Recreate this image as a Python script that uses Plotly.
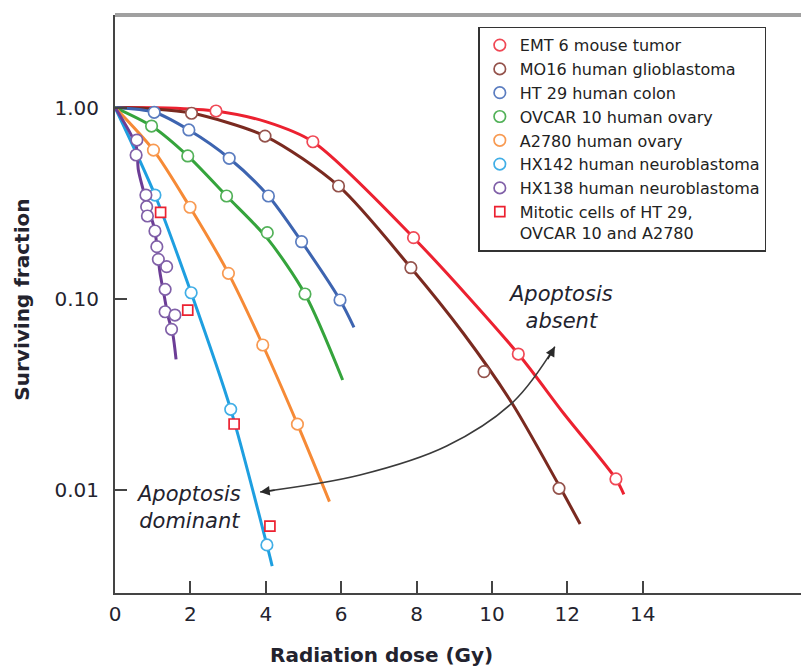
import numpy as np
import plotly.graph_objects as go

# ---------------- data ----------------
# EMT 6 mouse tumor
emt6_dose = [2.68, 5.25, 7.92, 10.70, 13.29]
emt6_sf = [0.959, 0.662, 0.2086, 0.0514, 0.01142]
emt6_curve_dose = [0, 1.4, 2.68, 4.0, 5.25, 7.92, 10.7, 11.9, 13.29, 13.5]
emt6_curve_sf = [1.0, 0.995, 0.959, 0.843, 0.662, 0.2086, 0.0514, 0.0252, 0.01142, 0.0095]

# MO16 human glioblastoma
mo16_dose = [2.03, 3.98, 5.93, 7.85, 9.79, 11.78]
mo16_sf = [0.933, 0.709, 0.3886, 0.1453, 0.04155, 0.0102]
mo16_curve_dose = [0, 1.0, 2.03, 3.98, 5.93, 7.85, 9.24, 10.53, 11.73, 12.34]
mo16_curve_sf = [1.0, 0.985, 0.935, 0.709, 0.389, 0.1453, 0.066, 0.0285, 0.0110, 0.00664]

# HT 29 human colon
ht29_dose = [1.04, 1.96, 3.03, 4.07, 4.95, 5.97]
ht29_sf = [0.944, 0.763, 0.5426, 0.3445, 0.1987, 0.0985]
ht29_curve_dose = [0, 1.04, 1.96, 3.03, 4.07, 4.95, 5.97, 6.34]
ht29_curve_sf = [1.0, 0.944, 0.763, 0.543, 0.3445, 0.1987, 0.0985, 0.0709]

# OVCAR 10 human ovary
ovcar_dose = [0.97, 1.93, 2.96, 4.04, 5.04]
ovcar_sf = [0.800, 0.558, 0.3445, 0.2215, 0.1059]
ovcar_curve_dose = [0, 0.97, 1.93, 2.96, 4.03, 5.04, 6.04]
ovcar_curve_sf = [1.0, 0.80, 0.558, 0.3445, 0.208, 0.1059, 0.0376]

# A2780 human ovary
a2780_dose = [1.02, 1.99, 3.01, 3.92, 4.84]
a2780_sf = [0.599, 0.301, 0.1358, 0.0573, 0.0221]
a2780_curve_dose = [0, 1.02, 1.99, 3.01, 3.92, 4.84, 5.69]
a2780_curve_sf = [1.0, 0.599, 0.301, 0.1358, 0.0573, 0.0221, 0.0087]

# HX142 human neuroblastoma
hx142_dose = [1.06, 2.02, 3.07, 4.03]
hx142_sf = [0.3486, 0.1075, 0.0264, 0.00516]
hx142_curve_dose = [0, 1.06, 2.02, 3.07, 4.03, 4.17]
hx142_curve_sf = [1.0, 0.3486, 0.1075, 0.0264, 0.00516, 0.0040]

# HX138 human neuroblastoma
hx138_dose = [0.58, 0.56, 0.82, 0.84, 0.86, 1.06, 1.11, 1.15, 1.37, 1.33, 1.33, 1.59, 1.50]
hx138_sf = [0.676, 0.5645, 0.3486, 0.3029, 0.2708, 0.2261, 0.1872, 0.1608, 0.1471,
            0.112, 0.0855, 0.0822, 0.0692]
hx138_curve_dose = [0, 0.56, 0.62, 0.82, 0.97, 1.06, 1.19, 1.31, 1.41, 1.53, 1.62]
hx138_curve_sf = [1.0, 0.63, 0.471, 0.33, 0.263, 0.226, 0.1385, 0.1025, 0.0805, 0.066, 0.0482]

# Mitotic cells of HT 29, OVCAR 10 and A2780
mitotic_dose = [1.21, 1.93, 3.16, 4.11]
mitotic_sf = [0.2831, 0.0873, 0.02214, 0.00648]

# curved double arrow between the two labels
arrow_dose = [3.85, 6.50, 8.80, 10.57, 11.67]
arrow_sf = [0.00976, 0.01198, 0.01698, 0.02895, 0.05614]

x_ticks = [0, 2, 4, 6, 8, 10, 12, 14]
y_ticks = [0.01, 0.1, 1.0]
y_tick_text = ["0.01", "0.10", "1.00"]

# ---------------- figure ----------------
FONT = "DejaVu Sans"
TXT = "#23232e"

series = [
    ("EMT 6 mouse tumor", "#ec2130", "#f04855", emt6_dose, emt6_sf, emt6_curve_dose, emt6_curve_sf),
    ("MO16 human glioblastoma", "#7a2a20", "#94524b", mo16_dose, mo16_sf, mo16_curve_dose, mo16_curve_sf),
    ("HT 29 human colon", "#3d64b0", "#5b7dc0", ht29_dose, ht29_sf, ht29_curve_dose, ht29_curve_sf),
    ("OVCAR 10 human ovary", "#35a43c", "#52b158", ovcar_dose, ovcar_sf, ovcar_curve_dose, ovcar_curve_sf),
    ("A2780 human ovary", "#f68a36", "#f89a52", a2780_dose, a2780_sf, a2780_curve_dose, a2780_curve_sf),
    ("HX142 human neuroblastoma", "#1e9fe0", "#40aee6", hx142_dose, hx142_sf, hx142_curve_dose, hx142_curve_sf),
    ("HX138 human neuroblastoma", "#6c3d96", "#8060a8", hx138_dose, hx138_sf, hx138_curve_dose, hx138_curve_sf),
]

fig = go.Figure()

for name, lc, mc, d, s, cd, cs in series:
    fig.add_trace(go.Scatter(
        x=cd, y=cs, mode="lines", showlegend=False, hoverinfo="skip",
        line=dict(color=lc, width=3, shape="spline", smoothing=0.8),
    ))

# arrow curve
fig.add_trace(go.Scatter(
    x=arrow_dose, y=arrow_sf, mode="lines", showlegend=False, hoverinfo="skip",
    line=dict(color="#3a3a3a", width=1.6, shape="spline", smoothing=1.0),
))

for name, lc, mc, d, s, cd, cs in series:
    fig.add_trace(go.Scatter(
        x=d, y=s, mode="markers", name=name,
        marker=dict(symbol="circle", size=11.5, color="white", line=dict(color=mc, width=1.7)),
    ))

fig.add_trace(go.Scatter(
    x=mitotic_dose, y=mitotic_sf, mode="markers",
    name="Mitotic cells of HT 29,<br>OVCAR 10 and A2780",
    marker=dict(symbol="square", size=10, color="white", line=dict(color="#ec2130", width=1.7)),
))

# arrow heads
fig.add_annotation(x=arrow_dose[0], y=np.log10(arrow_sf[0]), xref="x", yref="y",
                   ax=16, ay=-2, axref="pixel", ayref="pixel", text="", showarrow=True,
                   arrowhead=2, arrowsize=1.2, arrowwidth=1.6, arrowcolor="#2a2a2a")
fig.add_annotation(x=arrow_dose[-1], y=np.log10(arrow_sf[-1]), xref="x", yref="y",
                   ax=-8, ay=14, axref="pixel", ayref="pixel", text="", showarrow=True,
                   arrowhead=2, arrowsize=1.2, arrowwidth=1.6, arrowcolor="#2a2a2a")

# labels
fig.add_annotation(x=11.81, y=np.log10(0.09), xref="x", yref="y", showarrow=False,
                   text="<i>Apoptosis</i><br><i>absent</i>", align="center",
                   xanchor="center", yanchor="middle",
                   font=dict(family=FONT, size=21, color=TXT))
fig.add_annotation(x=1.95, y=np.log10(0.0081), xref="x", yref="y", showarrow=False,
                   text="<i>Apoptosis</i><br><i>dominant</i>", align="center",
                   xanchor="center", yanchor="middle",
                   font=dict(family=FONT, size=21, color=TXT))

# axis titles
fig.add_annotation(x=-0.136, y=0.507, xref="paper", yref="paper", showarrow=False,
                   text="<b>Surviving fraction</b>", textangle=-90,
                   xanchor="center", yanchor="middle",
                   font=dict(family=FONT, size=20, color=TXT))
fig.add_annotation(x=0.3878, y=-0.1073, xref="paper", yref="paper", showarrow=False,
                   text="<b>Radiation dose (Gy)</b>",
                   xanchor="center", yanchor="middle",
                   font=dict(family=FONT, size=20, color=TXT))

# top frame line
fig.add_shape(type="line", xref="paper", yref="paper", x0=0, x1=1, y0=1, y1=1,
              line=dict(color="#a0a0a0", width=4))

fig.update_layout(
    width=801, height=667,
    margin=dict(l=115, r=0, t=15, b=74),
    paper_bgcolor="white", plot_bgcolor="white",
    font=dict(family=FONT, color=TXT),
    legend=dict(
        x=0.5296, y=0.9798, xanchor="left", yanchor="top",
        bgcolor="white", bordercolor="#333333", borderwidth=1.5,
        font=dict(family=FONT, size=16, color="#222222"),
        valign="top", itemwidth=30,
    ),
    xaxis=dict(
        range=[0, 18.2], tickvals=x_ticks, ticks="inside", ticklen=12, tickwidth=2,
        tickcolor="#444444", showline=True, linecolor="#444444", linewidth=2,
        showgrid=False, zeroline=False, tickfont=dict(family=FONT, size=20, color=TXT),
        ticklabelstandoff=2,
    ),
    yaxis=dict(
        type="log", range=[-2.5386, 0.4837], tickvals=y_ticks, ticktext=y_tick_text,
        ticks="inside", ticklen=12, tickwidth=2, tickcolor="#444444",
        showline=True, linecolor="#444444", linewidth=2,
        showgrid=False, zeroline=False, tickfont=dict(family=FONT, size=20, color=TXT),
        ticklabelstandoff=10,
    ),
)

fig.write_html(
    "out.html",
    config={"displayModeBar": False},
    post_script="document.body.style.margin='0';document.body.style.padding='0';"
                "document.body.style.overflow='hidden';",
)
